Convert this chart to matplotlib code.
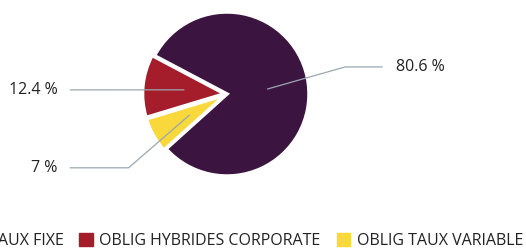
import numpy as np
import matplotlib.pyplot as plt

plt.rcParams['font.family'] = ['Open Sans', 'DejaVu Sans']

categories = ['OBLIG TAUX FIXE', 'OBLIG HYBRIDES CORPORATE', 'OBLIG TAUX VARIABLE']
values = [80.6, 12.4, 7.0]
labels = ['80.6 %', '12.4 %', '7 %']
colors = ['#3c1440', '#a51c2a', '#f9d83c']

W, H = 526, 250
fig = plt.figure(figsize=(W / 100, H / 100), dpi=100)
cx, cy, r = 227, 94, 82
ax = fig.add_axes([(cx - r) / W, (H - cy - r) / H, 2 * r / W, 2 * r / H])

wedges, _ = ax.pie(values, colors=colors, startangle=-138, counterclock=True,
                   explode=[0, 0.03, 0.03], radius=1,
                   wedgeprops=dict(edgecolor='white', linewidth=2.5))
ax.set_xlim(-1, 1)
ax.set_ylim(-1, 1)
ax.set_aspect('equal')
ax.axis('off')

# label layout: elbow point, line end, text x, text alignment
layout = [
    ((1.44, 0.33), 1.89, 2.06, 'left'),
    ((-1.49, 0.05), -1.91, -2.07, 'right'),
    ((-1.20, -0.90), -1.91, -2.07, 'right'),
]
line_color = '#9aa8b0'
for w, lab, (elbow, xend, xt, ha) in zip(wedges, labels, layout):
    mid = np.deg2rad((w.theta1 + w.theta2) / 2)
    ox, oy = w.center
    px, py = ox + 0.5 * np.cos(mid), oy + 0.5 * np.sin(mid)
    ax.plot([px, elbow[0], xend], [py, elbow[1], elbow[1]], color=line_color,
            lw=0.9, clip_on=False)
    ax.text(xt, elbow[1], lab, ha=ha, va='center', fontsize=11.5, color='#222222',
            clip_on=False)

handles = [plt.Rectangle((0, 0), 1, 1, color=c) for c in colors]
fig.legend(handles, categories, loc='center right', bbox_to_anchor=(523 / W, 1 - 241 / H),
           ncol=3, frameon=False, fontsize=11.5, handlelength=0.85, handleheight=0.85,
           handletextpad=0.4, columnspacing=1.0, labelcolor='#222222',
           borderpad=0, borderaxespad=0)

fig.savefig('out.png', dpi=100)
